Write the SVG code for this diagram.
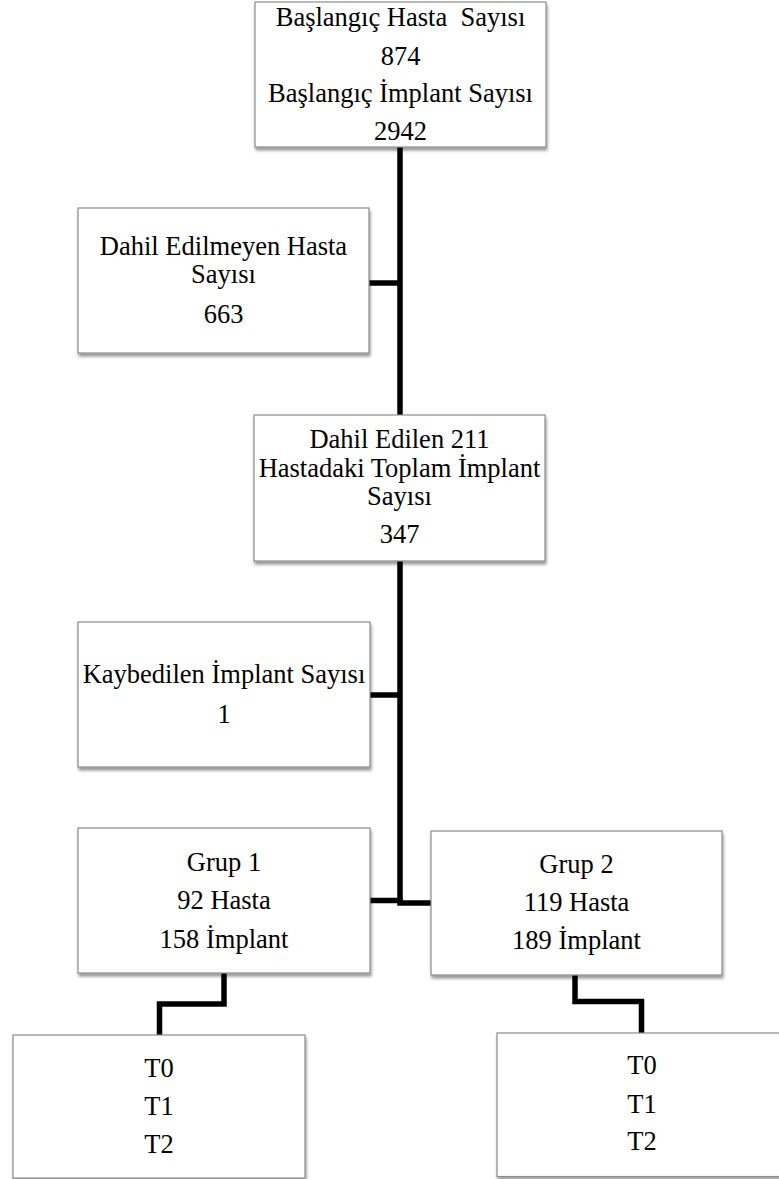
<svg xmlns="http://www.w3.org/2000/svg" width="779" height="1179" viewBox="0 0 779 1179">
<defs>
<filter id="sh" x="-5%" y="-5%" width="115%" height="120%">
<feDropShadow dx="1" dy="3" stdDeviation="1.8" flood-color="#000" flood-opacity="0.4"/>
</filter>
<style>
.box{fill:#fff;stroke:#8a8a8a;stroke-width:1.2;filter:url(#sh)}
.t{font-family:"Liberation Serif","Times New Roman",serif;font-size:26.5px;fill:#000;text-anchor:middle}
.c{fill:none;stroke:#000;stroke-width:5.5;stroke-linejoin:miter}
</style>
</defs>
<rect width="779" height="1179" fill="#fff"/>
<g id="connectors">
<path class="c" d="M400,147 V903"/>
<path class="c" d="M369,283 H400"/>
<path class="c" d="M370,695 H400"/>
<path class="c" d="M370,900.5 H400 V903 H431"/>
<path class="c" d="M224,973 V1004 H159.5 V1035"/>
<path class="c" d="M575,975 V1001.5 H641.5 V1033"/>
</g>
<g id="node-baslangic">
<rect class="box" x="255" y="2" width="291" height="145"/>
<text class="t" x="400.5" y="26" xml:space="preserve">Başlangıç Hasta  Sayısı</text>
<text class="t" x="400.5" y="64.5">874</text>
<text class="t" x="400.5" y="102">Başlangıç İmplant Sayısı</text>
<text class="t" x="400.5" y="140">2942</text>
</g>
<g id="node-dahil-edilmeyen">
<rect class="box" x="78" y="208" width="291" height="145"/>
<text class="t" x="223.5" y="255">Dahil Edilmeyen Hasta</text>
<text class="t" x="223.5" y="283">Sayısı</text>
<text class="t" x="223.5" y="323">663</text>
</g>
<g id="node-dahil-edilen">
<rect class="box" x="254" y="415" width="291" height="146"/>
<text class="t" x="399.5" y="448">Dahil Edilen 211</text>
<text class="t" x="399.5" y="476.5">Hastadaki Toplam İmplant</text>
<text class="t" x="399.5" y="505">Sayısı</text>
<text class="t" x="399.5" y="543">347</text>
</g>
<g id="node-kaybedilen">
<rect class="box" x="78" y="622" width="292" height="145"/>
<text class="t" x="224" y="683">Kaybedilen İmplant Sayısı</text>
<text class="t" x="224" y="723">1</text>
</g>
<g id="node-grup1">
<rect class="box" x="78" y="828" width="292" height="145"/>
<text class="t" x="224" y="871">Grup 1</text>
<text class="t" x="224" y="909">92 Hasta</text>
<text class="t" x="224" y="948">158 İmplant</text>
</g>
<g id="node-grup2">
<rect class="box" x="431" y="831" width="291" height="144"/>
<text class="t" x="576.5" y="873">Grup 2</text>
<text class="t" x="576.5" y="911">119 Hasta</text>
<text class="t" x="576.5" y="949">189 İmplant</text>
</g>
<g id="node-t-grup1">
<rect class="box" x="13" y="1035" width="292" height="143"/>
<text class="t" x="159" y="1077">T0</text>
<text class="t" x="159" y="1115">T1</text>
<text class="t" x="159" y="1153">T2</text>
</g>
<g id="node-t-grup2">
<rect class="box" x="497" y="1033" width="292" height="143.5"/>
<text class="t" x="642" y="1074">T0</text>
<text class="t" x="642" y="1113">T1</text>
<text class="t" x="642" y="1150">T2</text>
</g>
</svg>
